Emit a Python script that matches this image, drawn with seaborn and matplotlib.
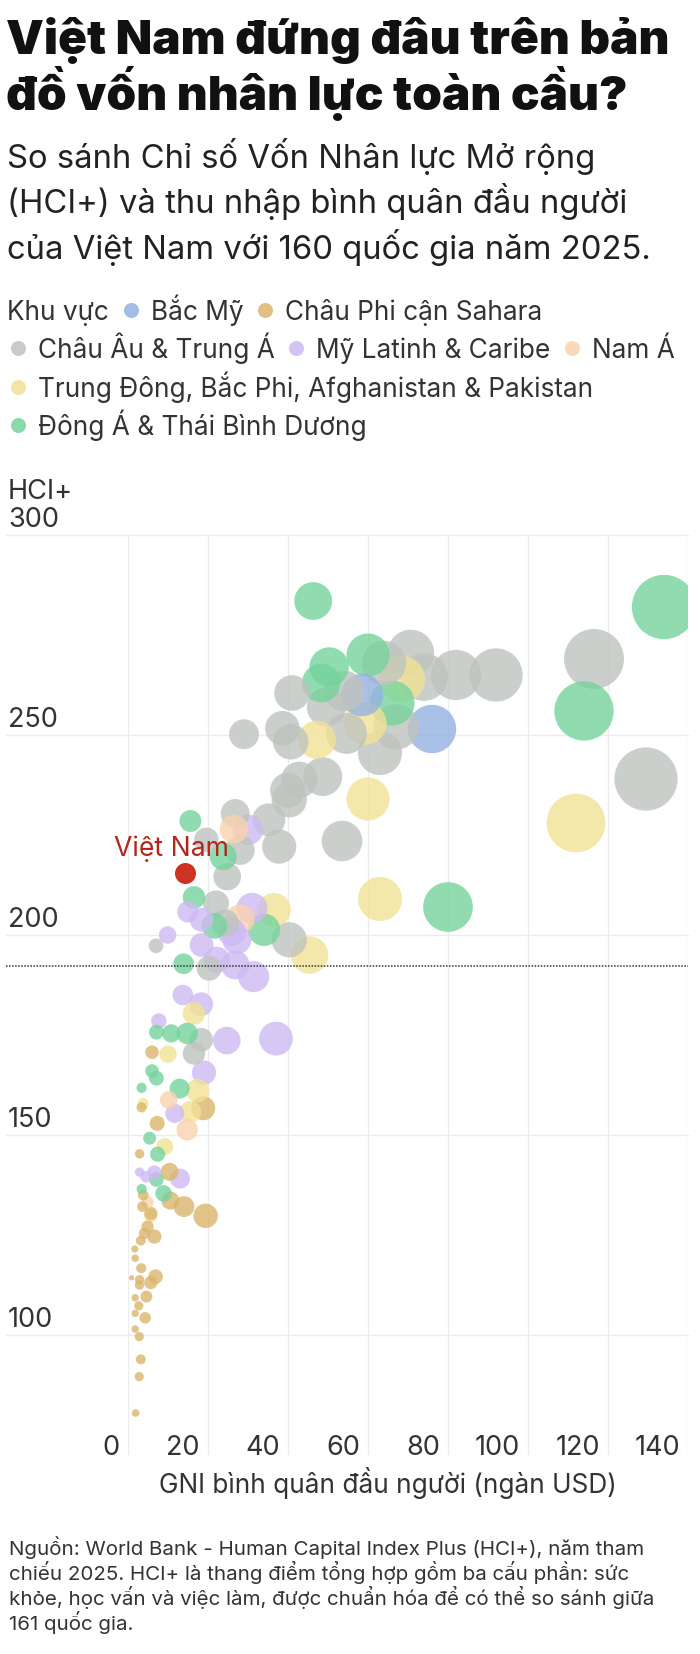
import numpy as np
import pandas as pd
import matplotlib
matplotlib.use("Agg")
import matplotlib.pyplot as plt
import matplotlib.transforms as mtransforms
from matplotlib.lines import Line2D
import seaborn as sns

# Region names (legend order)
regions = ["Bắc Mỹ", "Châu Phi cận Sahara", "Châu Âu & Trung Á",
           "Mỹ Latinh & Caribe", "Nam Á",
           "Trung Đông, Bắc Phi, Afghanistan & Pakistan",
           "Đông Á & Thái Bình Dương"]
region_colors = ["#94b2e0", "#dbb56d", "#bfc3bf", "#cdbaf2", "#f9d3ae",
                 "#f2e295", "#75d39c"]

# GNI per capita (thousand USD), HCI+ and region index
gni = [
    # Bắc Mỹ
    76, 58.5,
    # Đông Á & Thái Bình Dương
    134, 114, 80, 46.3, 60, 50.3, 48.3, 66, 15.6, 23.8, 16.5, 21.6, 34, 13.9,
    7.1, 10.8, 14.8, 6, 7.1, 3.4, 12.9, 5.4, 7.4, 7.1, 3.4, 8.9,
    # Châu Âu & Trung Á
    116.5, 129.5, 70.7, 64, 74, 82, 92, 41, 54, 49.6, 54.6, 63, 38.6, 40.7,
    29, 42.8, 48.7, 39.9, 40.3, 35.2, 37.8, 26.8, 19.6, 28, 24.8, 53.5, 22,
    24.3, 40.3, 7, 20.3, 18.3, 16.5, 67,
    # Mỹ Latinh & Caribe
    30, 15, 18.4, 25.9, 31, 9.9, 18.4, 27.2, 22.2, 26.8, 31.4, 13.7, 18.3,
    7.7, 24.7, 37, 19, 11.7, 2.9, 4.5, 6.6, 13,
    # Nam Á
    10.2, 14.8, 4.9, 26.5, 28,
    # Trung Đông, Bắc Phi, Afghanistan & Pakistan
    112, 63, 60, 68.5, 59.3, 47.2, 36.5, 45.4, 16.5, 10, 17.4, 3.8, 15.6,
    9.2, 5.7,
    # Châu Phi cận Sahara
    6, 3.4, 18.8, 7.3, 2.9, 10.4, 3.8, 10.6, 14, 19.4, 3.6, 5.7, 4.9, 4.1,
    6.6, 3.2, 1.7, 1.8, 3.3, 6.9, 0.9, 2.9, 5.7, 2.9, 1.8, 4.6, 2.7, 1.8,
    4.3, 1.8, 2.8, 3.2, 2.8, 1.9,
]
hci = [
    251.5, 260,
    282, 256, 207, 283.5, 270, 267, 263, 258, 228.5, 219.6, 209.4, 202.3,
    201.3, 192.8, 175.7, 175.4, 175.4, 166, 164.2, 161.8, 161.6, 149.2,
    145.2, 138.9, 136.5, 135.4,
    269, 239, 270.5, 268, 264.5, 265, 265, 260.5, 261, 257, 250.4, 245.5,
    251.7, 248.3, 250.2, 238.8, 239.6, 236.2, 233.8, 228.8, 222.1, 230.4,
    223.8, 221.2, 214.6, 223.5, 207.9, 203, 198.8, 197.3, 191.7, 173.8,
    170.4, 252,
    226.3, 205.8, 203.8, 200.8, 206.7, 200, 197.5, 198.8, 193.8, 192.5,
    189.6, 185, 182.7, 178.5, 173.6, 174.1, 165.6, 155.4, 140.7, 139.6,
    140.6, 139.1,
    158.8, 151.3, 133.2, 226.5, 204,
    228, 209, 234, 264, 252.9, 248.8, 206.3, 195, 180.4, 170.2, 161.1,
    157.9, 155.8, 147.1, 129.8,
    170.7, 156.9, 156.7, 152.9, 145.3, 140.8, 135, 133.6, 132.1, 129.8,
    132.1, 130.4, 127.1, 125.4, 124.6, 123.6, 121.5, 119.2, 116.7, 114.6,
    114.3, 113.8, 113.1, 112.5, 109.3, 109.6, 107.3, 105.4, 104.3, 101.5,
    99.6, 93.9, 89.6, 80.5,
]
region_idx = [0] * 2 + [6] * 26 + [2] * 34 + [3] * 22 + [4] * 5 + [5] * 15 + [1] * 34

vn_gni, vn_hci = 14.3, 215.6
ref_line = 192.3

x_ticks = [0, 20, 40, 60, 80, 100, 120, 140]
y_ticks = [100, 150, 200, 250, 300]

title_lines = ["Việt Nam đứng đâu trên bản", "đồ vốn nhân lực toàn cầu?"]
subtitle_lines = ["So sánh Chỉ số Vốn Nhân lực Mở rộng",
                  "(HCI+) và thu nhập bình quân đầu người",
                  "của Việt Nam với 160 quốc gia năm 2025."]
note_lines = ["Nguồn: World Bank - Human Capital Index Plus (HCI+), năm tham",
              "chiếu 2025. HCI+ là thang điểm tổng hợp gồm ba cấu phần: sức",
              "khỏe, học vấn và việc làm, được chuẩn hóa để có thể so sánh giữa",
              "161 quốc gia."]

df = pd.DataFrame({"gni": gni, "hci": hci,
                   "region": [regions[i] for i in region_idx]})
df = df.sort_values("gni", ascending=False)

sns.set_theme(style="white")
plt.rcParams['font.family'] = ['Inter', 'DejaVu Sans']

W, H = 700, 1654
fig = plt.figure(figsize=(W / 100, H / 100), dpi=100)


def fx(px):
    return px / W


def fy(px):
    return 1 - px / H


# plot area: x=0 at 128px, x=140 at 688px; y=300 at 535px, y=70 at 1455px
ax = fig.add_axes([fx(128), fy(1455), 560 / W, 920 / H])
k = 16.0  # marker area (pt^2) per thousand USD
sns.scatterplot(data=df, x="gni", y="hci", hue="region",
                palette=dict(zip(regions, region_colors)),
                size="gni", sizes=(k * df.gni.min(), k * df.gni.max()),
                size_norm=(df.gni.min(), df.gni.max()),
                alpha=0.8, linewidth=0, legend=False, ax=ax, zorder=3)
ax.scatter([vn_gni], [vn_hci], s=k * vn_gni, color="#cc3322",
           linewidth=0, zorder=5)
ax.text(10.9, 219.8, "Việt Nam", ha="center", va="baseline",
        color="#b3261e", fontsize=19.2, zorder=6)

ax.set_xlim(0, 140)
ax.set_ylim(70, 300)
ax.set_xticks([])
ax.set_yticks([])
ax.set_xlabel("")
ax.set_ylabel("")
for s in ax.spines.values():
    s.set_visible(False)

left_ext = -122 / 560
for xv in x_ticks:
    ax.axvline(xv, color="#ececec", lw=1, zorder=0)
for yv in y_ticks:
    ax.axhline(yv, xmin=left_ext, xmax=1, clip_on=False,
               color="#ececec", lw=1, zorder=0)
ax.axhline(ref_line, xmin=left_ext, xmax=1, clip_on=False,
           color="#333333", lw=1.1, ls=(0, (1, 1)), zorder=4)

xlab_tr = mtransforms.offset_copy(
    mtransforms.blended_transform_factory(ax.transData, ax.transAxes),
    fig=fig, x=-8, y=0, units="dots")
for xv in x_ticks:
    ax.text(xv, 0, str(xv), transform=xlab_tr, ha="right", va="baseline",
            fontsize=19.5, color="#333333")

ylab_tr = mtransforms.offset_copy(
    mtransforms.blended_transform_factory(ax.transAxes, ax.transData),
    fig=fig, x=0, y=8, units="dots")
for yv in y_ticks:
    ax.text(-120 / 560, yv, str(yv), transform=ylab_tr, ha="left",
            va="baseline", fontsize=19.5, color="#333333")
hci_tr = mtransforms.offset_copy(
    mtransforms.blended_transform_factory(ax.transAxes, ax.transData),
    fig=fig, x=0, y=36, units="dots")
ax.text(-120 / 560, 300, "HCI+", transform=hci_tr, ha="left",
        va="baseline", fontsize=19.5, color="#333333")

fig.text(fx(388), fy(1493), "GNI bình quân đầu người (ngàn USD)",
         ha="center", va="baseline", fontsize=18.9, color="#333333")

# title, subtitle, notes
for line, base in zip(title_lines, [54, 110]):
    fig.text(fx(6), fy(base), line, ha="left", va="baseline",
             fontsize=34.3, fontweight=900, color="#111111")
for line, base in zip(subtitle_lines, [168, 213, 259]):
    fig.text(fx(7), fy(base), line, ha="left", va="baseline",
             fontsize=23.6, color="#222222")
for line, base in zip(note_lines, [1555, 1580, 1605, 1630]):
    fig.text(fx(9), fy(base), line, ha="left", va="baseline",
             fontsize=14.8, color="#333333")

# legend, laid out by hand in rows
renderer = fig.canvas.get_renderer()
rows = [[None, 0, 1], [2, 3, 4], [5], [6]]
row_centers = [310, 348, 387, 425]
for row, cy in zip(rows, row_centers):
    x = 10.5
    for item in row:
        if item is None:
            t = fig.text(fx(7), fy(cy + 10), "Khu vực", ha="left",
                         va="baseline", fontsize=18.9, color="#333333")
            x = 7 + t.get_window_extent(renderer).width + 15
            continue
        fig.add_artist(Line2D([fx(x + 7.5)], [fy(cy)], marker="o", ms=10.8,
                              color=region_colors[item], alpha=0.85,
                              markeredgewidth=0, transform=fig.transFigure))
        t = fig.text(fx(x + 27.5), fy(cy + 10), regions[item], ha="left",
                     va="baseline", fontsize=18.9, color="#333333")
        x = x + 27.5 + t.get_window_extent(renderer).width + 14

fig.savefig("out.png", dpi=100)
